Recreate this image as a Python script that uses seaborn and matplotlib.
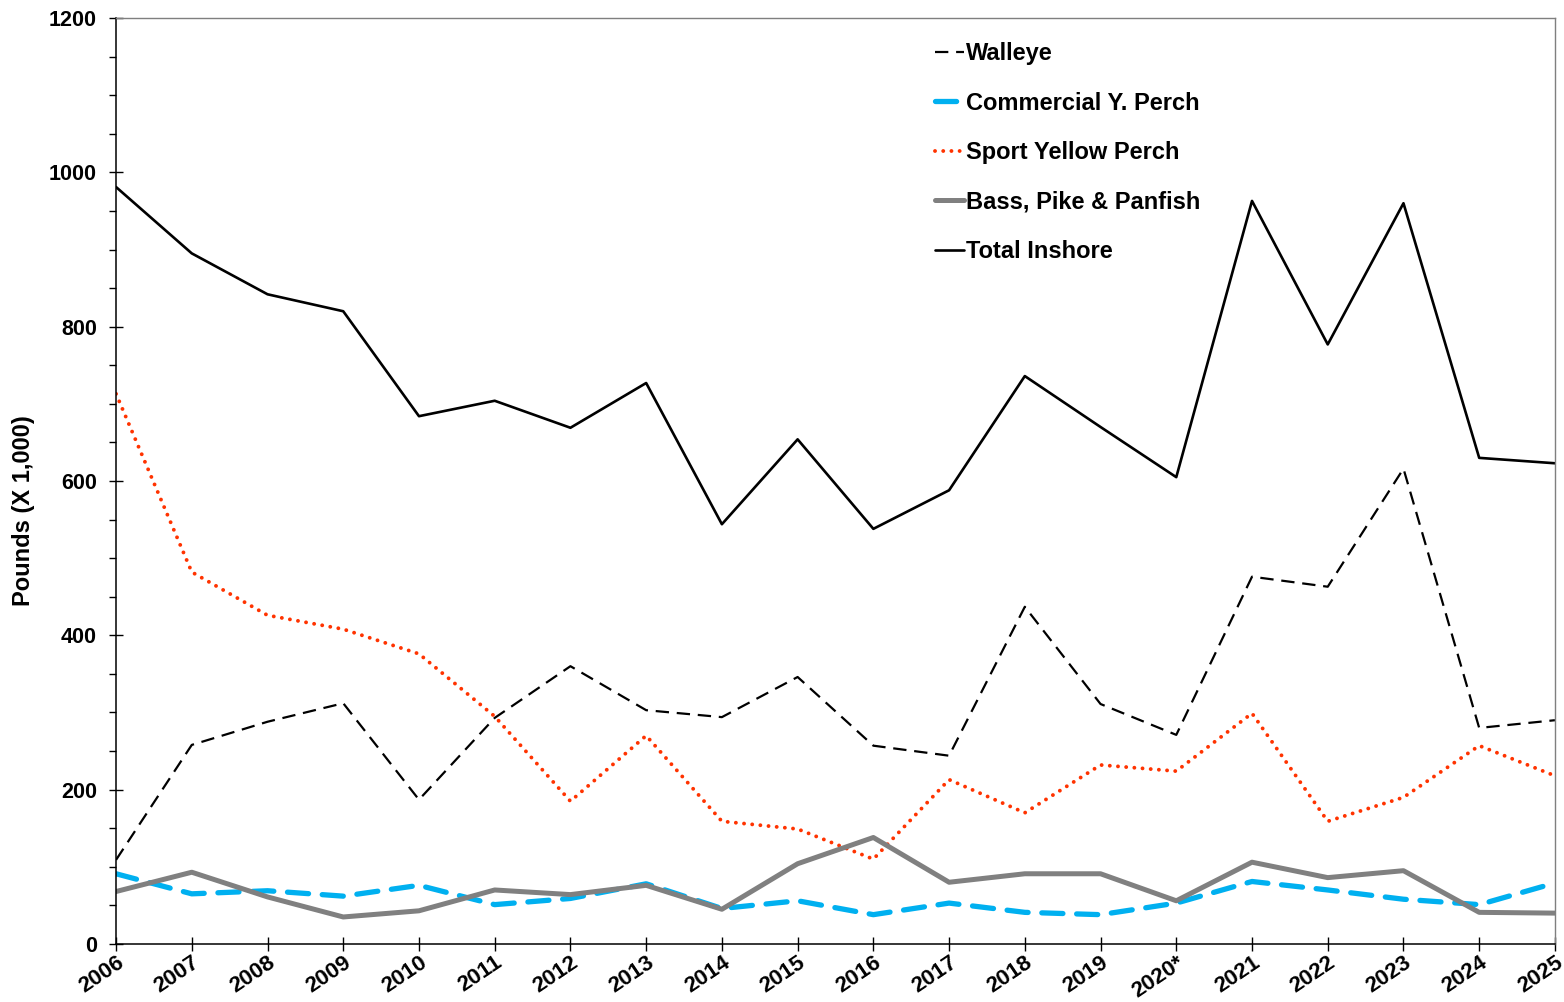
import matplotlib

matplotlib.use("Agg")

import matplotlib.pyplot as plt
import numpy as np
import pandas as pd
import seaborn as sns
from matplotlib.ticker import MultipleLocator


YEARS = ["2006", "2007", "2008", "2009", "2010", "2011", "2012", "2013", "2014", "2015",
         "2016", "2017", "2018", "2019", "2020*", "2021", "2022", "2023", "2024", "2025"]

WALLEYE = [109, 258, 288, 312, 187, 293, 360, 303, 294, 346,
           257, 244, 437, 311, 271, 476, 463, 616, 280, 290]
COMMERCIAL_PERCH = [91, 65, 69, 62, 76, 51, 59, 78, 46, 56,
                    38, 53, 41, 38, 53, 81, 70, 58, 51, 79]
SPORT_PERCH = [713, 482, 426, 408, 376, 295, 185, 270, 159, 149,
               110, 213, 170, 232, 224, 299, 159, 190, 257, 218]
BASS_PIKE_PANFISH = [68, 93, 61, 35, 43, 70, 64, 76, 45, 104,
                     138, 80, 91, 91, 56, 106, 86, 95, 41, 40]
TOTAL_INSHORE = [981, 895, 842, 820, 684, 704, 669, 727, 544, 654,
                 538, 588, 736, 670, 605, 963, 777, 960, 630, 623]


def main():
    sns.set_theme(style="white")
    plt.rcParams["font.family"] = ["Liberation Sans", "DejaVu Sans"]
    plt.rcParams["font.weight"] = "bold"
    for key in ["text.color", "axes.labelcolor", "xtick.color", "ytick.color"]:
        plt.rcParams[key] = "black"

    df = pd.DataFrame({
        "year": YEARS,
        "Walleye": WALLEYE,
        "Commercial Y. Perch": COMMERCIAL_PERCH,
        "Sport Yellow Perch": SPORT_PERCH,
        "Bass, Pike & Panfish": BASS_PIKE_PANFISH,
        "Total Inshore": TOTAL_INSHORE,
    })
    df["pos"] = np.arange(len(YEARS))

    fig = plt.figure(figsize=(15.64, 10.02), dpi=100)
    ax = fig.add_axes([0.0742, 0.0579, 0.9200, 0.9241])

    styles = [
        ("Walleye", dict(color="black", linewidth=1.6, dashes=(6, 3.5))),
        ("Commercial Y. Perch", dict(color="#00B0F0", linewidth=3.8, dashes=(4, 2.6),
                                     dash_capstyle="round")),
        ("Sport Yellow Perch", dict(color="#FF3300", linewidth=2.8, dashes=(0.01, 2.1), dash_capstyle="round")),
        ("Bass, Pike & Panfish", dict(color="#808080", linewidth=3.6)),
        ("Total Inshore", dict(color="black", linewidth=1.9)),
    ]
    for name, kw in styles:
        sns.lineplot(data=df, x="pos", y=name, ax=ax, label=name, **kw)

    ax.set_xlim(0, len(YEARS) - 1)
    ax.set_ylim(0, 1200)
    ax.set_xticks(df["pos"])
    ax.set_xticklabels(YEARS, rotation=34, ha="right", rotation_mode="anchor",
                       fontsize=16, fontweight="bold")
    ax.yaxis.set_major_locator(MultipleLocator(200))
    ax.yaxis.set_minor_locator(MultipleLocator(50))
    ax.tick_params(axis="y", which="major", direction="inout", length=9.5, width=1,
                   labelsize=15.5, left=True, pad=9)
    ax.tick_params(axis="y", which="minor", direction="out", length=5, width=1, left=True)
    ax.tick_params(axis="x", which="major", direction="inout", length=9.5, width=1,
                   bottom=True, pad=1)
    for lbl in ax.get_yticklabels():
        lbl.set_fontweight("bold")

    ax.set_xlabel("")
    ax.set_ylabel("Pounds (X 1,000)", fontsize=17, fontweight="bold")
    ax.yaxis.set_label_coords(-0.0565, 0.468)

    for side in ["left", "bottom"]:
        ax.spines[side].set_color("black")
        ax.spines[side].set_linewidth(1.1)
    for side in ["top", "right"]:
        ax.spines[side].set_color("#7f7f7f")
        ax.spines[side].set_linewidth(1.0)

    ax.legend(loc="upper left", bbox_to_anchor=(0.557, 0.993), frameon=False,
              prop={"size": 17, "weight": "bold"}, handlelength=1.2,
              handletextpad=0.1, labelspacing=1.12, borderaxespad=0.35)

    fig.savefig("out.png", dpi=100)
    plt.close(fig)


if __name__ == "__main__":
    main()
